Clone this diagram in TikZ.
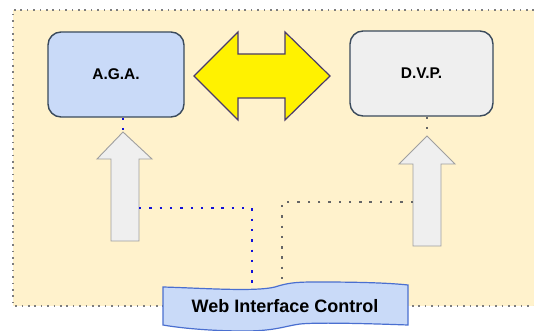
\documentclass[tikz,border=0pt]{standalone}
\usepackage{fontspec}
\setmainfont{Liberation Sans}
\definecolor{cream}{HTML}{FFF2CC}
\definecolor{lblue}{HTML}{C9DAF8}
\definecolor{lgray}{HTML}{EFEFEF}
\definecolor{boxedge}{HTML}{3A4A5C}
\definecolor{yedge}{HTML}{4A3B6B}
\definecolor{wedge}{HTML}{4A6FD0}
\definecolor{dotblue}{HTML}{1010D8}
\definecolor{dotgray}{HTML}{666666}
\begin{document}
\begin{tikzpicture}[x=1pt,y=-1pt,
  framedot/.style={draw=dotgray!85, line width=1.6pt, dash pattern=on 1.6pt off 4.8pt},
  box/.style={draw=boxedge, line width=1.4pt, rounded corners=13pt, font=\bfseries\fontsize{15.5}{18}\selectfont, text=black},
  bigarrow/.style={draw=gray!75, line width=0.9pt, fill=lgray},
  bluedots/.style={draw=dotblue, line width=2.4pt, dash pattern=on 2.4pt off 7.9pt},
  graydots/.style={draw=dotgray, line width=2.4pt, dash pattern=on 2.4pt off 7.9pt}]
\useasboundingbox (0,0) rectangle (534,331);
% background frame
\fill[cream] (13,10) rectangle (534,306);
\draw[framedot] (534,10) -- (13,10) -- (13,306) -- (534,306);
% boxes
\node[box, fill=lblue, minimum width=136pt, minimum height=85pt] (aga) at (116,74.5) {A.G.A.};
\node[box, fill=lgray, minimum width=143pt, minimum height=85pt] (dvp) at (421.5,73.5) {D.V.P.};
% double arrow
\draw[fill=yellow, draw=yedge, line width=1.2pt, line join=miter]
  (194,76) -- (238,32) -- (238,54) -- (285,54) -- (285,32) -- (330,76)
  -- (285,120) -- (285,98) -- (238,98) -- (238,120) -- cycle;
% up arrows
\coordinate (lt) at (123,132);
\coordinate (rt) at (427,136);
\draw[bigarrow] (lt) -- (152,159) -- (139,159) -- (139,241) -- (111,241) -- (111,159) -- (97,159) -- cycle;
\draw[bigarrow] (rt) -- (455,164) -- (441,164) -- (441,246) -- (413,246) -- (413,164) -- (399,164) -- cycle;
\coordinate (ls) at (139,208);
\coordinate (rs) at (413,202);
% web interface control banner
\draw[fill=lblue, draw=wedge, line width=1.2pt]
  (163,287) .. controls (200,288) and (255,292) .. (275,287)
  .. controls (290,282) and (300,282) .. (320,282)
  .. controls (360,282) and (390,283) .. (408,285)
  -- (408,325)
  .. controls (380,324) and (320,322) .. (300,324)
  .. controls (285,326) and (275,331) .. (245,331)
  .. controls (210,331) and (180,328) .. (163,325) -- cycle;
\node[font=\bfseries\fontsize{18}{21}\selectfont] (wic) at (285,306) {Web Interface Control};
\coordinate (wb) at (252,287);
\coordinate (wg) at (282,282);
% connectors
\draw[bluedots] (aga.south -| lt) -- (lt);
\draw[graydots] (dvp.south -| rt) -- (rt);
\draw[bluedots] (ls) -- (ls -| wb) -- (wb);
\draw[graydots] (rs) -- (rs -| wg) -- (wg);
\end{tikzpicture}
\end{document}
